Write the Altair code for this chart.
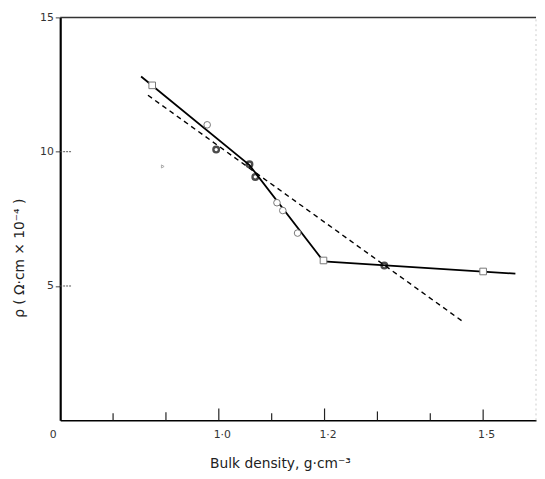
import altair as alt
import pandas as pd

# ---- data ----
solid_x = [0.853, 1.058, 1.198, 1.561]
solid_y = [12.80, 9.50, 5.92, 5.46]

dash_x = [0.866, 1.462]
dash_y = [12.10, 3.67]

open_sq_x = [0.874, 1.198, 1.500]
open_sq_y = [12.47, 5.95, 5.54]

open_ci_x = [0.978, 1.110, 1.121, 1.149]
open_ci_y = [11.00, 8.10, 7.81, 6.97]

filled_x = [0.995, 1.058, 1.069, 1.313]
filled_y = [10.08, 9.53, 9.06, 5.76]

stray_x = [0.894]
stray_y = [9.45]

xtick_vals = [0.8, 0.9, 1.0, 1.1, 1.2, 1.3, 1.4, 1.5]
xtick_len = [0.26, 0.30, 0.44, 0.26, 0.44, 0.33, 0.26, 0.40]
x_label_vals = [0.7, 1.0, 1.2, 1.5]
y_label_vals = [5, 10, 15]
ytick_vals = [5, 10]

X_MIN, X_MAX = 0.7, 1.6
Y_MIN, Y_MAX = 0, 15

xs = alt.Scale(domain=[X_MIN, X_MAX], zero=False, nice=False)
ys = alt.Scale(domain=[Y_MIN, Y_MAX], zero=False, nice=False)

FONT = "DejaVu Sans"

x_axis = alt.Axis(
    values=x_label_vals,
    labelExpr="datum.value < 0.75 ? '0' : replace(format(datum.value, '.1f'), '.', '·')",
    labelOffset={"condition": {"test": "datum.value < 0.75", "value": -11}, "value": 3},
    tickSize=0, labelPadding=8, labelFontSize=11, labelColor="#333", labelFont=FONT,
    domainColor="black", domainWidth=1.6, grid=False,
    title="Bulk density, g·cm⁻³", titleFont=FONT, titleFontSize=14,
    titleFontWeight="normal", titleColor="#222", titleX=223, titleY=48,
    titleBaseline="alphabetic", titleAlign="center",
)
y_axis = alt.Axis(
    values=y_label_vals, tickSize=5, tickColor="#444", tickWidth=1,
    labelPadding=2, labelFontSize=11, labelColor="#333", labelFont=FONT,
    domainColor="black", domainWidth=2.2, grid=False,
    title="ρ ( Ω·cm × 10⁻⁴ )", titleFont=FONT, titleFontSize=14,
    titleFontWeight="normal", titleColor="#222", titleX=-41, titleY=244,
    titleAngle=270, titleAlign="center", titleBaseline="middle",
)

solid = alt.Chart(pd.DataFrame({"x": solid_x, "y": solid_y})).mark_line(
    color="black", strokeWidth=1.8
).encode(x=alt.X("x:Q", scale=xs, axis=x_axis), y=alt.Y("y:Q", scale=ys, axis=y_axis))

dashed = alt.Chart(pd.DataFrame({"x": dash_x, "y": dash_y})).mark_line(
    color="black", strokeWidth=1.4, strokeDash=[5, 4]
).encode(x=alt.X("x:Q", scale=xs), y=alt.Y("y:Q", scale=ys))

sq = alt.Chart(pd.DataFrame({"x": open_sq_x, "y": open_sq_y})).mark_point(
    shape="square", filled=False, color="#777", size=45, strokeWidth=1, fill="white", fillOpacity=1
).encode(x=alt.X("x:Q", scale=xs), y=alt.Y("y:Q", scale=ys))

ci = alt.Chart(pd.DataFrame({"x": open_ci_x, "y": open_ci_y})).mark_point(
    shape="circle", filled=False, color="#777", size=45, strokeWidth=1, fill="white", fillOpacity=1
).encode(x=alt.X("x:Q", scale=xs), y=alt.Y("y:Q", scale=ys))

fi = alt.Chart(pd.DataFrame({"x": filled_x, "y": filled_y})).mark_point(
    shape="circle", filled=False, color="black", size=32, strokeWidth=2.4
).encode(x=alt.X("x:Q", scale=xs), y=alt.Y("y:Q", scale=ys))

st = alt.Chart(pd.DataFrame({"x": stray_x, "y": stray_y})).mark_point(
    shape="triangle-right", filled=False, color="#888", size=10, strokeWidth=1
).encode(x=alt.X("x:Q", scale=xs), y=alt.Y("y:Q", scale=ys))

xt = alt.Chart(pd.DataFrame({"x": xtick_vals, "y0": [0] * len(xtick_vals), "y1": xtick_len})).mark_rule(
    color="#222", strokeWidth=1.2
).encode(x=alt.X("x:Q", scale=xs), y=alt.Y("y0:Q", scale=ys), y2="y1:Q")

yt = alt.Chart(pd.DataFrame({"y": ytick_vals, "x0": [X_MIN] * 2, "x1": [X_MIN + 0.022] * 2})).mark_rule(
    color="#555", strokeWidth=1, strokeDash=[2, 1]
).encode(y=alt.Y("y:Q", scale=ys), x=alt.X("x0:Q", scale=xs), x2="x1:Q")

frame = pd.DataFrame({"x0": [X_MIN], "x1": [X_MAX], "y0": [Y_MIN], "y1": [Y_MAX]})
top = alt.Chart(frame).mark_rule(color="#333", strokeWidth=1.5).encode(
    x=alt.X("x0:Q", scale=xs), x2="x1:Q", y=alt.Y("y1:Q", scale=ys)
)
right = alt.Chart(frame).mark_rule(color="#ccc", strokeWidth=1, strokeDash=[2, 3]).encode(
    x=alt.X("x1:Q", scale=xs), y=alt.Y("y0:Q", scale=ys), y2="y1:Q"
)

chart = alt.layer(top, right, xt, yt, dashed, solid, sq, ci, fi, st).properties(
    width=483, height=409,
    autosize=alt.AutoSizeParams(type="none"),
    padding={"left": 53, "top": 6, "right": 1, "bottom": 52},
    background="white",
).configure_view(stroke=None)

chart.save("out.html", embed_options={"renderer": "svg", "actions": False})
